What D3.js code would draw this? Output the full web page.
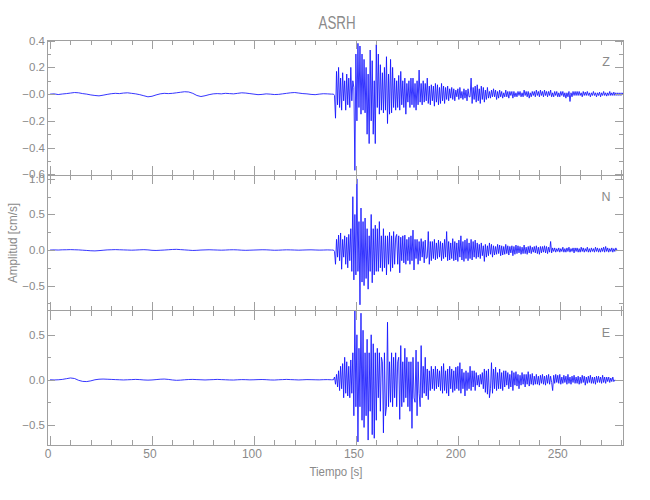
<!DOCTYPE html>
<html><head><meta charset="utf-8">
<script src="https://cdn.jsdelivr.net/npm/d3@7"></script>
<style>
body{margin:0;background:#fff}
text{font-family:"Liberation Sans","DejaVu Sans",sans-serif;fill:#8a8a8a}
</style>
</head><body>
<svg id="c" width="650" height="500"></svg>
<script>
// ---------------- data ----------------
const title = "ASRH";
const xLabel = "Tiempo [s]";
const yLabel = "Amplitud [cm/s]";
const components = ["Z", "N", "E"];

const xTickValues = [0, 50, 100, 150, 200, 250];
const xTickLabels = ["0", "50", "100", "150", "200", "250"];

const yTickValuesZ = [0.4, 0.2, 0, -0.2, -0.4, -0.6];
const yTickLabelsZ = ["0.4", "0.2", "\u22120.0", "\u22120.2", "\u22120.4", "\u22120.6"];
const yMinorZ = [0.3, 0.1, -0.1, -0.3, -0.5];
const yTickValuesN = [1.0, 0.5, 0, -0.5];
const yTickLabelsN = ["1.0", "0.5", "0.0", "\u22120.5"];
const yMinorN = [0.75, 0.25, -0.25, -0.75];
const yTickValuesE = [0.5, 0, -0.5];
const yTickLabelsE = ["0.5", "0.0", "\u22120.5"];
const yMinorE = [0.25, -0.25];

// sampling: pre-event part sampled every 2 s from 0 s, strong-motion part every 0.5 s from 139 s
const preStart = 0, dtPre = 2;
const codaStart = 139, dtCoda = 0.5;

const preZ = [0,0.002,-0.003,0.001,0.004,0.008,0.012,0.01,0.004,0,-0.006,-0.01,-0.013,-0.008,-0.002,0.003,0.006,0.004,0.008,0.01,
0.006,0.002,-0.004,-0.012,-0.02,-0.016,-0.006,0.002,0.006,0.004,0.006,0.01,0.014,0.018,0.016,0.006,-0.01,-0.018,-0.012,-0.004,
0.002,0.004,0.002,0.006,0.004,0.002,0.006,0.01,0.008,0.004,0,-0.004,-0.002,0.002,0,-0.003,-0.002,0.002,0.006,0.01,
0.012,0.008,0.004,0.002,-0.002,-0.004,0,0.003,0.002,0];
const codaZ = [0,-0.01,-0.18,0.17,-0.08,0.2,-0.1,0.12,-0.12,0.16,-0.05,0.1,-0.12,0.15,-0.08,0.12,-0.1,0.2,-0.05,0.1,
0.05,-0.57,0.3,-0.2,0.38,-0.1,0.36,-0.15,0.3,-0.12,0.26,-0.14,0.2,-0.3,0.15,-0.37,0.33,-0.2,0.25,-0.3,
0.1,-0.37,0.37,-0.1,0.3,-0.15,0.22,-0.12,0.16,-0.14,0.2,-0.12,0.28,-0.22,0.15,-0.15,0.26,-0.14,0.2,-0.1,
0.12,-0.12,0.1,-0.1,0.14,-0.12,0.17,-0.08,0.1,-0.1,0.12,-0.15,0.08,-0.06,0.1,-0.1,0.12,-0.08,0.12,-0.1,
0.08,-0.12,0.1,-0.08,0.18,-0.06,0.08,-0.08,0.1,-0.06,0.08,-0.05,0.12,-0.07,0.06,-0.08,0.07,-0.05,0.06,-0.09,
0.08,-0.06,0.07,-0.08,0.05,-0.07,0.08,-0.05,0.06,-0.07,0.05,-0.04,0.06,-0.05,0.04,-0.03,0.05,-0.04,0.04,-0.05,
0.03,-0.02,0.04,-0.04,0.05,-0.03,0.02,-0.04,0.04,-0.03,0.03,-0.05,0.04,-0.02,-0.02,0.12,-0.07,0.05,-0.04,0.06,
-0.06,0.07,-0.05,0.04,-0.07,0.06,-0.04,0.05,-0.06,0.03,-0.04,0.05,-0.03,0.02,-0.03,0.03,-0.02,0.04,-0.02,0.03,
-0.04,0.02,-0.03,0.03,-0.02,0.02,-0.03,0.01,-0.02,0.03,-0.02,0.02,-0.03,0.02,-0.01,0.02,-0.03,0.02,-0.02,0.01,
-0.02,0.02,-0.01,0.02,-0.02,0.01,-0.02,0.03,-0.01,0.02,-0.02,0.02,-0.03,0.01,-0.02,0.02,-0.01,0.02,-0.02,0.03,
-0.01,0.02,-0.02,0.03,-0.01,0.02,-0.02,0.03,-0.01,0.02,-0.02,0.02,-0.01,0.03,-0.02,0.01,-0.02,0.02,-0.01,0.02,
-0.02,0.01,-0.02,0.02,-0.01,0.02,-0.02,0.01,-0.03,0.01,-0.02,0.02,-0.055,0.01,-0.02,0.02,-0.01,0.02,-0.01,0.02,
-0.01,0.02,-0.01,0.01,-0.02,0.02,-0.01,0.015,-0.01,0.02,-0.01,0.01,-0.02,0.01,-0.01,0.02,-0.01,0.01,-0.02,0.01,
-0.01,0.015,-0.02,0.01,-0.01,0.02,-0.01,0.01,-0.015,0.01,-0.01,0.02,-0.01,0.01,-0.01,0.015,-0.01,0.01,-0.01,0.01,
-0.01,0.01,-0.01,0.01,0];

const preN = [0,0.002,0,0.003,0.004,0.006,0.004,0.002,-0.002,-0.006,-0.01,-0.012,-0.008,-0.003,0.002,0.004,0.006,0.004,0.002,0,
-0.002,0,0.003,0.005,0.002,-0.004,-0.006,-0.003,0,0.004,0.008,0.01,0.006,0.002,-0.002,-0.006,-0.004,0,0.002,0.004,
0.002,0,-0.002,0,0.003,0.004,0.002,-0.002,-0.004,-0.002,0,0.002,0.004,0.003,0,-0.003,-0.002,0.001,0.003,0.002,
0,-0.002,0,0.002,0.003,0.001,-0.001,0,0.002,0];
const codaN = [0,-0.02,-0.2,0.15,-0.1,0.21,-0.15,0.24,-0.27,0.15,-0.1,0.2,-0.2,0.18,-0.25,0.22,-0.15,0.3,-0.3,0.75,
-0.42,0.5,-0.35,1.0,-0.3,0.4,-0.77,0.59,-0.45,0.4,-0.5,0.45,-0.4,0.3,-0.55,0.2,-0.3,0.5,-0.46,0.3,
-0.35,0.35,-0.3,0.3,-0.3,0.4,-0.25,0.2,-0.3,0.3,-0.25,0.2,-0.35,0.2,-0.2,0.25,-0.3,0.2,-0.25,0.26,
-0.2,0.18,0.22,-0.2,0.2,-0.32,0.18,-0.15,0.2,-0.18,0.21,-0.2,0.15,-0.15,0.18,-0.2,0.2,-0.15,0.28,-0.28,
0.15,-0.12,0.15,-0.2,0.12,-0.15,0.16,-0.1,0.12,-0.18,0.14,-0.12,-0.1,0.26,-0.2,0.12,-0.15,0.12,-0.12,0.15,
-0.14,0.1,-0.12,0.14,-0.1,0.12,-0.15,0.1,-0.12,0.15,-0.1,0.26,-0.15,0.12,-0.14,0.1,-0.12,0.16,-0.15,0.12,
-0.14,0.1,-0.16,0.14,-0.1,0.2,-0.14,0.12,-0.16,0.14,-0.12,0.16,-0.15,0.1,-0.12,0.15,-0.14,0.12,-0.1,0.14,
-0.12,0.1,-0.1,0.08,-0.12,0.1,-0.08,0.06,-0.16,0.08,-0.1,0.06,-0.08,0.1,-0.06,0.08,-0.1,0.06,-0.07,0.05,
-0.06,0.08,-0.05,0.07,-0.08,0.06,-0.07,0.05,-0.06,0.08,-0.05,0.06,-0.07,0.05,-0.04,0.06,-0.08,0.05,-0.06,0.07,
-0.05,0.06,-0.04,0.05,-0.06,0.04,-0.05,0.07,-0.05,0.04,-0.06,0.05,-0.04,0.06,-0.05,0.04,-0.03,0.05,-0.04,0.06,
-0.05,0.04,-0.06,0.05,-0.04,0.05,-0.03,0.06,-0.04,0.05,-0.05,0.04,-0.03,0.12,-0.04,0.03,-0.02,0.03,-0.03,0.02,
-0.02,0.03,-0.03,0.02,-0.02,0.04,-0.03,0.02,-0.03,0.03,-0.02,0.04,-0.03,0.02,-0.02,0.03,-0.04,0.03,-0.02,0.03,
-0.03,0.02,-0.03,0.04,-0.02,0.03,-0.03,0.02,-0.02,0.04,-0.03,0.02,-0.03,0.03,-0.02,0.02,-0.03,0.04,-0.02,0.03,
-0.03,0.02,-0.03,0.03,-0.02,0.04,-0.03,0.05,-0.02,0.03,-0.03,0.02,-0.02,0.03,-0.03,0.02,-0.02,0.03,-0.01,0];

const preE = [0,-0.002,0,0.004,0.012,0.02,0.014,-0.006,-0.018,-0.02,-0.012,0,0.006,0.008,0.006,0.004,0.002,0,-0.002,0,
0.002,0.004,0.002,-0.002,-0.004,-0.002,0.002,0.006,0.008,0.004,-0.002,-0.006,-0.004,0,0.003,0.004,0.002,0,-0.002,0,
0.002,0.004,0.002,0,-0.002,-0.003,0,0.002,0.001,-0.001,0,0.002,0.003,0.001,-0.002,-0.003,0,0.002,0.004,0.002,
0,-0.002,0,0.002,0.001,0,-0.001,0.001,0.002,0];
const codaE = [0,0.03,-0.05,0.06,-0.08,0.1,-0.12,0.15,-0.1,0.18,-0.2,0.25,-0.15,0.2,-0.18,0.15,-0.2,0.22,-0.15,0.3,
-0.4,0.77,-0.3,0.5,-0.69,0.35,-0.3,0.74,-0.45,0.55,-0.53,0.3,-0.4,0.45,-0.67,0.3,-0.35,0.5,-0.61,0.4,
-0.65,0.3,-0.45,0.35,-0.2,0.3,-0.35,0.25,0.2,-0.59,0.3,-0.4,-0.3,0.64,-0.3,0.2,-0.25,0.3,-0.3,0.25,
-0.2,0.3,-0.3,0.2,0.25,-0.44,0.38,-0.3,0.2,-0.25,0.35,-0.2,0.25,-0.3,0.2,-0.35,0.2,-0.54,0.25,-0.2,
-0.25,0.33,-0.4,0.2,-0.15,-0.3,0.38,-0.2,0.15,-0.15,0.25,-0.18,0.12,-0.22,0.1,-0.12,0.15,-0.1,0.12,-0.12,
0.15,-0.1,0.12,-0.08,0.1,-0.12,0.15,-0.15,0.18,-0.12,0.1,-0.15,0.12,-0.18,0.15,-0.1,0.12,-0.14,0.1,-0.12,
0.14,-0.1,0.15,-0.12,0.19,-0.15,0.12,-0.1,0.08,-0.18,0.1,-0.12,0.08,-0.1,0.15,-0.12,0.1,-0.08,0.1,-0.12,
0.08,-0.06,0.05,-0.08,0.06,-0.05,0.08,-0.1,0.12,-0.14,0.1,-0.16,0.12,-0.2,-0.1,0.19,-0.15,0.12,-0.1,0.14,
-0.12,0.08,-0.1,0.12,-0.1,0.08,-0.12,0.1,-0.08,0.1,-0.06,0.08,-0.1,0.06,-0.08,0.1,-0.12,0.08,-0.06,0.09,
-0.07,0.06,-0.1,0.05,-0.06,0.08,-0.05,0.06,-0.08,0.06,-0.05,0.09,-0.07,0.06,-0.05,0.07,-0.06,0.04,-0.05,0.06,
-0.05,0.04,-0.06,0.05,-0.04,0.06,-0.05,0.04,-0.06,0.05,-0.04,0.06,-0.05,0.04,-0.03,-0.12,0.05,-0.04,0.06,-0.03,
0.05,-0.04,0.06,-0.05,0.03,-0.04,0.05,-0.03,0.04,-0.05,0.06,-0.04,0.03,-0.05,0.04,-0.03,0.05,-0.04,0.03,-0.04,
0.04,-0.05,0.03,-0.04,0.05,-0.03,0.04,-0.06,0.03,-0.04,0.04,-0.03,0.05,-0.04,0.03,-0.04,0.03,-0.05,0.04,-0.03,
0.04,-0.03,0.03,-0.04,0.05,-0.03,0.03,-0.04,0.03,-0.02,0.03,-0.03,0.02,-0.02,0.03,-0.02,0];

// ---------------- layout ----------------
const svg = d3.select("#c");
const X0 = 47, X1 = 623;
const x = d3.scaleLinear().domain([-1.5, 281]).range([X0, X1]);

const panels = [
  {name: components[0], pre: preZ, coda: codaZ, top: 40, bottom: 175, dom: [-0.605, 0.405],
   ticks: yTickValuesZ, labels: yTickLabelsZ, minor: yMinorZ},
  {name: components[1], pre: preN, coda: codaN, top: 175, bottom: 310.5, dom: [-0.85, 1.055],
   ticks: yTickValuesN, labels: yTickLabelsN, minor: yMinorN},
  {name: components[2], pre: preE, coda: codaE, top: 310.5, bottom: 445, dom: [-0.725, 0.77],
   ticks: yTickValuesE, labels: yTickLabelsE, minor: yMinorE}
];

const axisColor = "#a0a0a0";
const xMinor = d3.range(0, 281, 10);

panels.forEach((p, k) => {
  const y = d3.scaleLinear().domain(p.dom).range([p.bottom, p.top]);
  const g = svg.append("g");
  const clipId = "clip" + k;
  svg.append("clipPath").attr("id", clipId).append("rect")
    .attr("x", X0).attr("y", p.top).attr("width", X1 - X0).attr("height", p.bottom - p.top);

  const pts = p.pre.map((v, i) => [preStart + i * dtPre, v])
    .concat(p.coda.map((v, i) => [codaStart + i * dtCoda, v]));
  g.append("path").datum(pts)
    .attr("clip-path", `url(#${clipId})`)
    .attr("fill", "none").attr("stroke", "#1212ff").attr("stroke-width", 0.85)
    .attr("stroke-linejoin", "round")
    .attr("d", d3.line().x(d => x(d[0])).y(d => y(d[1])));

  g.append("rect").attr("x", X0).attr("y", p.top).attr("width", X1 - X0).attr("height", p.bottom - p.top)
    .attr("fill", "none").attr("stroke", axisColor).attr("stroke-width", 1).attr("shape-rendering", "crispEdges");

  const xt = g.append("g").attr("stroke", axisColor).attr("shape-rendering", "crispEdges");
  xMinor.forEach(t => {
    const L = xTickValues.includes(t) ? 9 : 5;
    const xx = Math.round(x(t)) + 0.5;
    xt.append("line").attr("x1", xx).attr("x2", xx).attr("y1", p.bottom).attr("y2", p.bottom - L);
    xt.append("line").attr("x1", xx).attr("x2", xx).attr("y1", p.top).attr("y2", p.top + L);
  });

  const yt = g.append("g").attr("stroke", axisColor).attr("shape-rendering", "crispEdges");
  p.ticks.forEach(v => {
    const yy = Math.round(y(v)) + 0.5;
    yt.append("line").attr("x1", X0).attr("x2", X0 + 8).attr("y1", yy).attr("y2", yy);
    yt.append("line").attr("x1", X1).attr("x2", X1 - 8).attr("y1", yy).attr("y2", yy);
  });
  p.minor.forEach(v => {
    const yy = Math.round(y(v)) + 0.5;
    yt.append("line").attr("x1", X0).attr("x2", X0 + 4).attr("y1", yy).attr("y2", yy);
    yt.append("line").attr("x1", X1).attr("x2", X1 - 4).attr("y1", yy).attr("y2", yy);
  });

  p.ticks.forEach((v, i) => {
    g.append("text").attr("x", X0 - 2).attr("y", y(v) + 4)
      .attr("text-anchor", "end").attr("font-size", 11.5).text(p.labels[i]);
  });

  g.append("text").attr("x", 606).attr("y", p.top + 26).attr("text-anchor", "middle")
    .attr("font-size", 12.5).text(p.name);
});

xTickValues.forEach((t, i) => {
  svg.append("text").attr("x", x(t) - 2).attr("y", 458).attr("text-anchor", "middle")
    .attr("font-size", 12).text(xTickLabels[i]);
});

svg.append("text").attr("x", 337).attr("y", 29).attr("text-anchor", "middle")
  .attr("font-size", 19).attr("textLength", 37).attr("lengthAdjust", "spacingAndGlyphs").text(title);
svg.append("text").attr("x", 336).attr("y", 476).attr("text-anchor", "middle")
  .attr("font-size", 13).attr("textLength", 53).attr("lengthAdjust", "spacingAndGlyphs").text(xLabel);
svg.append("text").attr("transform", "translate(17,243) rotate(-90)").attr("text-anchor", "middle")
  .attr("font-size", 13).attr("textLength", 80).attr("lengthAdjust", "spacingAndGlyphs").text(yLabel);
</script>
</body></html>
